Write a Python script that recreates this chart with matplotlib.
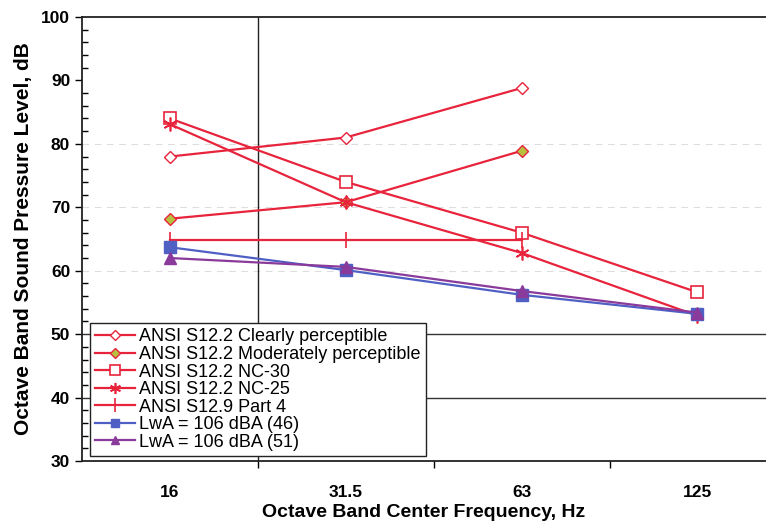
import numpy as np
import matplotlib
matplotlib.use("Agg")
import matplotlib.pyplot as plt
from matplotlib.ticker import MultipleLocator

plt.rcParams['font.family'] = ['Liberation Sans', 'DejaVu Sans']

# data
freqs = ["16", "31.5", "63", "125"]
clearly = [78, 81, 88.8]
moderately = [68.2, 70.8, 78.9]
nc30 = [84, 74, 66, 56.6]
nc25 = [83.1, 70.8, 62.8, 52.9]
s129 = [64.9, 64.9, 64.9]
lwa46 = [63.7, 60.1, 56.2, 53.2]
lwa51 = [62, 60.6, 56.8, 53.4]

red = '#e8243c'
blue = '#4f5fc4'
purple = '#8a3a9a'

fig = plt.figure(figsize=(7.66, 5.25), dpi=100)
ax = fig.add_axes([82 / 766, 1 - 461 / 525, 1 - 82 / 766, 444 / 525])

x = np.arange(len(freqs))

# faint scan-like grid lines + dark ones
for yv in [60, 70, 80]:
    ax.axhline(yv, color='#dddddd', lw=0.8, ls=(0, (6, 5)), zorder=0)
for yv in [40, 50]:
    ax.axhline(yv, color='#333333', lw=1.0, zorder=0)
ax.axvline(0.5, color='#222222', lw=1.0, zorder=0)

ax.plot(x[:3], clearly, color=red, lw=1.6, marker='D', ms=6.5, mfc='white', mec=red, mew=1.0,
        label='ANSI S12.2 Clearly perceptible')
ax.plot(x[:3], moderately, color=red, lw=1.6, marker='D', ms=6.5, mfc='#b8c040', mec=red, mew=1.0,
        label='ANSI S12.2 Moderately perceptible')
ax.plot(x, nc30, color=red, lw=1.6, marker='s', ms=9, mfc='white', mec=red, mew=1.2,
        label='ANSI S12.2 NC-30')
ax.plot(x, nc25, color=red, lw=1.6, marker=(6, 2, 0), ms=10, mec=red, mew=1.2,
        label='ANSI S12.2 NC-25')
ax.plot(x[:3], s129, color=red, lw=1.6, marker='|', ms=12, mec=red, mew=1.2,
        label='ANSI S12.9 Part 4')
ax.plot(x, lwa46, color=blue, lw=1.6, marker='s', ms=8, mfc=blue, mec=blue,
        label='LwA = 106 dBA (46)')
ax.plot(x, lwa51, color=purple, lw=1.6, marker='^', ms=8, mfc=purple, mec=purple,
        label='LwA = 106 dBA (51)')

ax.set_ylim(30, 100)
ax.set_xlim(-0.5, 3.39)
ax.yaxis.set_major_locator(MultipleLocator(10))
ax.yaxis.set_minor_locator(MultipleLocator(2))
ax.tick_params(axis='y', which='major', direction='out', length=5, width=1, labelsize=12.5)
ax.tick_params(axis='y', which='minor', direction='in', length=4, width=1)
for lab in ax.get_yticklabels():
    lab.set_fontweight('bold')

ax.set_xticks([0.5, 1.5, 2.5])
ax.set_xticklabels([])
ax.set_xticks(x, minor=True)
ax.set_xticklabels(freqs, minor=True, fontsize=12.5, fontweight='bold')
ax.tick_params(axis='x', which='major', direction='out', length=5, width=1)
ax.tick_params(axis='x', which='minor', length=0, pad=17)

ax.spines['right'].set_visible(False)
for s in ['left', 'bottom', 'top']:
    ax.spines[s].set_linewidth(1.3)
    ax.spines[s].set_color('#222222')

ax.set_ylabel('Octave Band Sound Pressure Level, dB', fontsize=15, fontweight='bold', labelpad=6)
ax.set_xlabel('Octave Band Center Frequency, Hz', fontsize=14, fontweight='bold', labelpad=3)

leg = ax.legend(loc='lower left', bbox_to_anchor=(0.0117, 0.011), borderaxespad=0,
                fontsize=13, frameon=True, fancybox=False, framealpha=1, edgecolor='#222222',
                handlelength=2.2, handletextpad=0.2, labelspacing=0.03,
                borderpad=0.3, markerscale=0.8)
leg.get_frame().set_linewidth(1.0)

plt.savefig('out.png', dpi=100)
